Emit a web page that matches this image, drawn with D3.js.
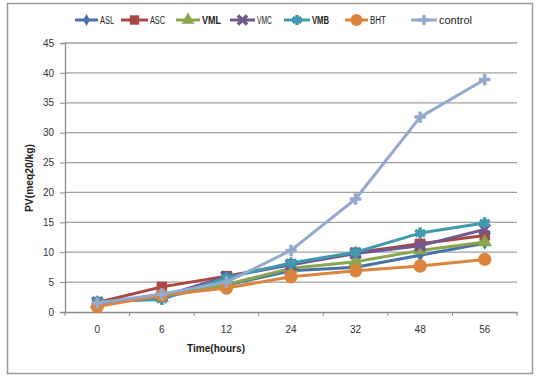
<!DOCTYPE html>
<html><head><meta charset="utf-8">
<script src="https://cdn.jsdelivr.net/npm/d3@7"></script>
<style>body{margin:0;background:#fff}svg{display:block}text{font-family:"Liberation Sans",Arial,sans-serif}</style>
</head><body><svg id="c" width="539" height="379"></svg>
<script>
const categories = ["0","6","12","24","32","48","56"];
const yTicks = [0,5,10,15,20,25,30,35,40,45];
const seriesNames = ["ASL","ASC","VML","VMC","VMB","BHT","control"];
const ASL = [1.5, 2.6, 4.5, 6.9, 7.5, 9.5, 11.5];
const ASC = [1.6, 4.2, 6.0, 8.0, 9.9, 11.4, 12.8];
const VML = [1.5, 2.4, 4.6, 7.3, 8.4, 10.3, 11.7];
const VMC = [1.6, 2.6, 5.9, 7.9, 9.8, 11.1, 13.8];
const VMB = [1.7, 2.1, 5.7, 8.2, 10.0, 13.2, 14.9];
const BHT = [0.9, 2.8, 4.0, 5.9, 6.9, 7.7, 8.8];
const control = [1.5, 3.0, 5.0, 10.3, 18.9, 32.6, 38.9];
const values = [ASL, ASC, VML, VMC, VMB, BHT, control];
const colors = ["#4572A7","#AA4643","#89A54E","#71588F","#4198AF","#DB843D","#93A9CF"];
const markers = ["diamond","square","triangle","x","star","circle","plus"];
const boldLegend = [false,false,true,false,true,false,false];

const svg = d3.select("#c");
// frame
svg.append("rect").attr("x",7.5).attr("y",3.5).attr("width",525).attr("height",370)
  .attr("fill","#fff").attr("stroke","#9a9a9a").attr("stroke-width",1.5);

const L=65, R=517, T=43, B=312;
const x = d3.scaleBand().domain(categories).range([L,R]);
const y = d3.scaleLinear().domain([0,45]).range([B,T]);

// gridlines
svg.append("g").selectAll("line").data(yTicks.filter(d=>d>0)).join("line")
  .attr("x1",L).attr("x2",R).attr("y1",d=>y(d)).attr("y2",d=>y(d))
  .attr("stroke","#a0a0a0").attr("stroke-width",1.3);

// y axis
const ya = svg.append("g").attr("transform",`translate(${L},0)`)
  .call(d3.axisLeft(y).tickValues(yTicks).tickSize(5).tickPadding(6));
ya.select(".domain").attr("stroke","#8a8a8a").attr("stroke-width",1.3);
ya.selectAll(".tick line").attr("stroke","#8a8a8a");
ya.selectAll("text").attr("font-size",10).attr("fill","#333");

// x axis
const xa = svg.append("g").attr("transform",`translate(0,${B})`)
  .call(d3.axisBottom(x).tickSize(0).tickPadding(14));
xa.select(".domain").attr("stroke","#8a8a8a").attr("stroke-width",1.3);
xa.selectAll("text").attr("font-size",10).attr("fill","#333");
const bounds = categories.map(c=>x(c)).concat([R]);
xa.selectAll(".bt").data(bounds).join("line").attr("class","bt")
  .attr("x1",d=>d).attr("x2",d=>d).attr("y1",0).attr("y2",4)
  .attr("stroke","#8a8a8a");

// titles
svg.append("text").attr("x",216).attr("y",352).attr("text-anchor","middle")
  .attr("font-size",10).attr("font-weight","bold").attr("fill","#222")
  .attr("textLength",58).attr("lengthAdjust","spacingAndGlyphs").text("Time(hours)");
svg.append("text").attr("transform","translate(33,178) rotate(-90)").attr("text-anchor","middle")
  .attr("font-size",10).attr("font-weight","bold").attr("fill","#222")
  .attr("textLength",68).attr("lengthAdjust","spacingAndGlyphs").text("PV(meq20/kg)");

function marker(g, type, color, cx, cy, s){
  const sym = {diamond:d3.symbolDiamond,square:d3.symbolSquare,triangle:d3.symbolTriangle,
    circle:d3.symbolCircle};
  const tr = `translate(${cx},${cy})`;
  if(type==="x"){
    g.append("path").attr("d",d3.symbol(d3.symbolX,s)()).attr("transform",tr)
      .attr("stroke",color).attr("stroke-width",3.5).attr("fill","none");
  } else if(type==="star"){
    g.append("path").attr("d",d3.symbol(d3.symbolAsterisk,s)()).attr("transform",tr)
      .attr("stroke",color).attr("stroke-width",3.5).attr("fill","none");
  } else if(type==="plus"){
    g.append("path").attr("d",d3.symbol(d3.symbolPlus,s)()).attr("transform",tr)
      .attr("stroke",color).attr("stroke-width",3.5).attr("fill","none");
  } else {
    g.append("path").attr("d",d3.symbol(sym[type],s)()).attr("transform",tr)
      .attr("fill",color);
  }
}
const sizes = {diamond:50,square:110,triangle:90,x:70,star:90,circle:140,plus:45};

// series
const line = d3.line().x((d,i)=>x(categories[i])+x.bandwidth()/2).y(d=>y(d));
values.forEach((vals,k)=>{
  const g = svg.append("g");
  g.append("path").attr("d",line(vals)).attr("fill","none").attr("stroke",colors[k])
    .attr("stroke-width",3).attr("stroke-linejoin","round");
  vals.forEach((v,i)=>marker(g, markers[k], colors[k], x(categories[i])+x.bandwidth()/2, y(v), sizes[markers[k]]));
});

// legend
const legX = [75,121,176,230,284,345,411];
const legW = [23,27,24,25,26,23,26];
const legTW = [14,15,19,15,17,16,33];
const lg = svg.append("g");
seriesNames.forEach((n,k)=>{
  const x0 = legX[k], yy = 20;
  lg.append("line").attr("x1",x0).attr("x2",x0+legW[k]).attr("y1",yy).attr("y2",yy)
    .attr("stroke",colors[k]).attr("stroke-width",3);
  marker(lg, markers[k], colors[k], x0+legW[k]/2, yy, sizes[markers[k]]*0.8);
  lg.append("text").attr("x",x0+legW[k]+2).attr("y",yy+3.5).attr("font-size",10)
    .attr("textLength",legTW[k]).attr("lengthAdjust","spacingAndGlyphs")
    .attr("font-weight",boldLegend[k]?"bold":"normal").attr("fill","#222").text(n);
});
</script></body></html>
